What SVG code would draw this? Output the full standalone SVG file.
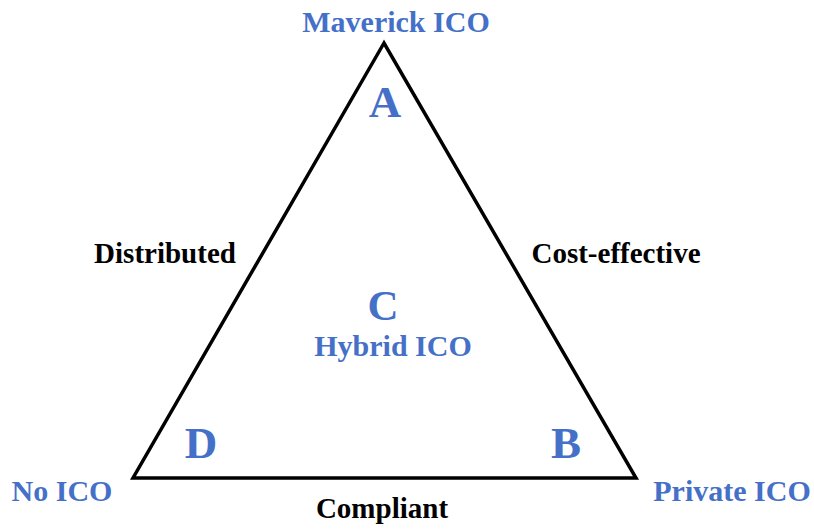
<svg xmlns="http://www.w3.org/2000/svg" width="814" height="529" viewBox="0 0 814 529">
<style>
.blue{fill:#4570c8;font-family:"Liberation Serif","Times New Roman",serif;font-weight:bold;font-size:30px;text-anchor:middle}
.big{font-size:45px}
.blk{fill:#000;font-family:"Liberation Serif","Times New Roman",serif;font-weight:bold;font-size:29px;text-anchor:middle}
</style>
<rect width="814" height="529" fill="#fff"/>
<g id="connectors">
<polygon points="384,43 133,478 636,478" fill="none" stroke="#000" stroke-width="3.5" stroke-linejoin="miter"/>
</g>
<g id="nodeA"><text class="blue" x="396" y="32">Maverick ICO</text><text class="blue big" x="385" y="117">A</text></g>
<g id="nodeC"><text class="blue big" x="383" y="320" style="font-size:43px">C</text><text class="blue" x="393" y="356">Hybrid ICO</text></g>
<g id="nodeD"><text class="blue big" x="201" y="458">D</text><text class="blue" x="62" y="501">No ICO</text></g>
<g id="nodeB"><text class="blue big" x="566" y="458">B</text><text class="blue" x="732" y="501">Private ICO</text></g>
<g id="edgeLabels">
<text class="blk" x="165" y="263">Distributed</text>
<text class="blk" x="616" y="263">Cost-effective</text>
<text class="blk" x="382" y="518">Compliant</text>
</g>
</svg>
